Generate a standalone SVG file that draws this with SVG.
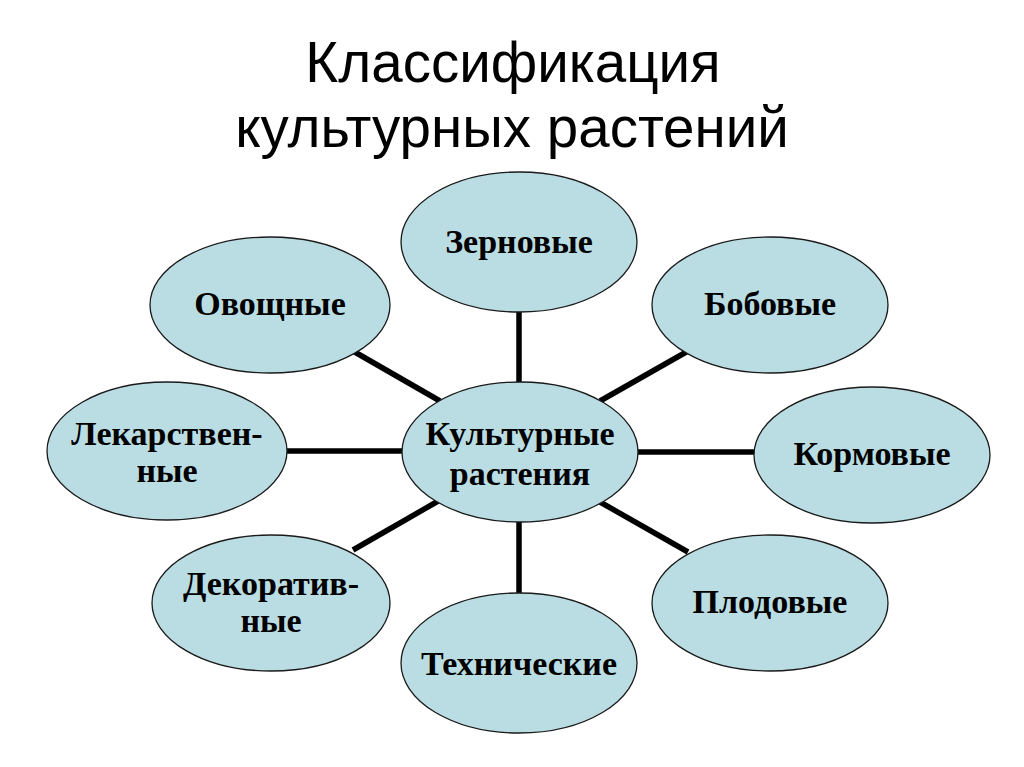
<svg xmlns="http://www.w3.org/2000/svg" width="1024" height="767" viewBox="0 0 1024 767">
<style>
.node ellipse{fill:#badde3;stroke:#1a1a1a;stroke-width:1.3}
.node text{font-family:"Liberation Serif",serif;font-weight:bold;font-size:34px;fill:#000;text-anchor:middle}
.title{font-family:"Liberation Sans",sans-serif;font-size:56.5px;fill:#000;text-anchor:middle}
#connectors line{stroke:#000;stroke-width:5.5}
</style>
<rect width="1024" height="767" fill="#fff"/>
<text class="title" x="513" y="82">Классификация</text>
<text class="title" x="512" y="147">культурных растений</text>
<g id="connectors">
<line x1="519" y1="310" x2="519" y2="384"/>
<line x1="519" y1="520" x2="519" y2="595"/>
<line x1="285" y1="451" x2="402" y2="451"/>
<line x1="636" y1="452" x2="756" y2="452"/>
<line x1="353" y1="351" x2="440" y2="401"/>
<line x1="688" y1="351" x2="600" y2="401"/>
<line x1="353" y1="550" x2="440" y2="500"/>
<line x1="688" y1="552" x2="600" y2="502"/>
</g>
<g id="n-center" class="node"><ellipse cx="520" cy="452" rx="118" ry="70"/><text x="520" y="445">Культурные</text><text x="520" y="485">растения</text></g>
<g id="n-zern" class="node"><ellipse cx="519" cy="242" rx="118" ry="70"/><text x="519" y="253">Зерновые</text></g>
<g id="n-ovosh" class="node"><ellipse cx="270" cy="305" rx="120" ry="68"/><text x="270" y="315">Овощные</text></g>
<g id="n-bob" class="node"><ellipse cx="770" cy="305" rx="118" ry="68"/><text x="770" y="315">Бобовые</text></g>
<g id="n-lek" class="node"><ellipse cx="167" cy="451" rx="120" ry="69"/><text x="167" y="445">Лекарствен-</text><text x="167" y="482">ные</text></g>
<g id="n-korm" class="node"><ellipse cx="872" cy="455" rx="118" ry="68"/><text x="872" y="465">Кормовые</text></g>
<g id="n-dekor" class="node"><ellipse cx="271" cy="603" rx="119" ry="68"/><text x="271" y="595">Декоратив-</text><text x="271" y="632">ные</text></g>
<g id="n-plod" class="node"><ellipse cx="770" cy="603" rx="118" ry="68"/><text x="770" y="613">Плодовые</text></g>
<g id="n-tech" class="node"><ellipse cx="519" cy="663" rx="118" ry="70"/><text x="519" y="675">Технические</text></g>
</svg>
